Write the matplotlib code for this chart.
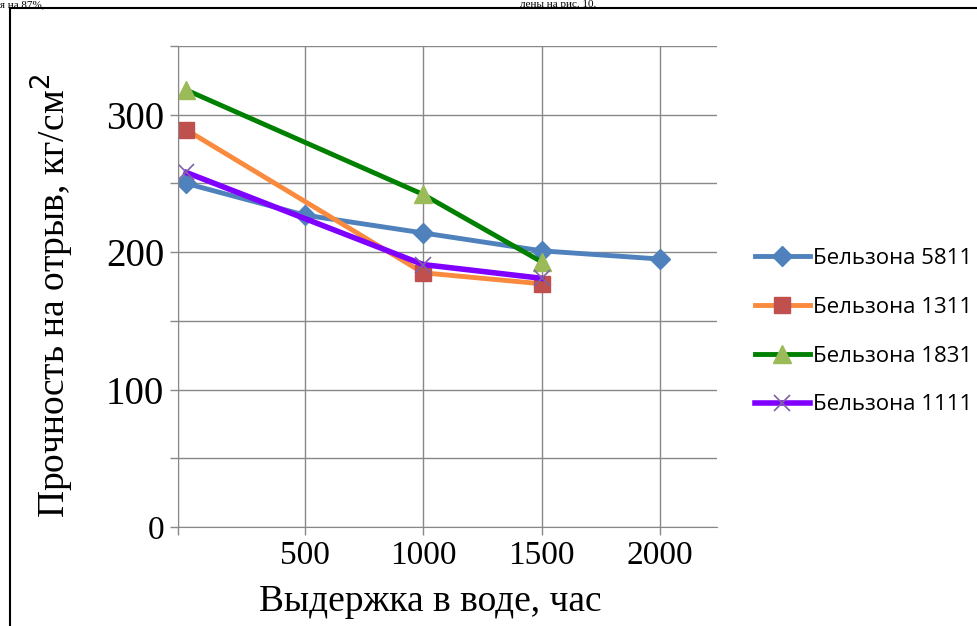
import matplotlib
matplotlib.use('Agg')
from matplotlib import pyplot as plt
from matplotlib.lines import Line2D

# время выдержки, час
x_5811 = [0, 500, 1000, 1500, 2000]
y_5811 = [250, 227, 214, 201, 195]

x_short = [0, 1000, 1500]
y_1311 = [289, 185, 177]
y_1831 = [318, 242, 193]
y_1111 = [258, 191, 181]

names = ['Бельзона 5811', 'Бельзона 1311', 'Бельзона 1831', 'Бельзона 1111']

serif = ['Liberation Serif', 'DejaVu Serif']

fig = plt.figure(figsize=(9.78, 6.26), dpi=100)
ax = fig.add_axes([0.182, 0.158, 0.551, 0.7685])

ax.plot(x_5811, y_5811, color='#4F81BD', lw=3.5, marker='D', ms=10,
        mfc='#4F81BD', mec='#4F81BD', label=names[0])
ax.plot(x_short, y_1311, color='#F98A3E', lw=3.5, marker='s', ms=12,
        mfc='#C0504D', mec='#C0504D', label=names[1])
ax.plot(x_short, y_1831, color='#008000', lw=3.5, marker='^', ms=13,
        mfc='#9BBB59', mec='#9BBB59', label=names[2])
ax.plot(x_short, y_1111, color='#8000FF', lw=4, marker='x', ms=12,
        mew=1.2, mec='#8064A2', label=names[3])

xmin, xmax = -35, 2240
ax.set_xlim(xmin, xmax)
ax.set_ylim(0, 350)
ax.set_xticks([xmin, 500, 1000, 1500, 2000])
ax.set_xticklabels(['', '500', '1000', '1500', '2000'])
ax.set_yticks([0, 100, 200, 300])
ax.set_yticks([50, 150, 250, 350], minor=True)

for lab in ax.get_xticklabels():
    lab.set_fontfamily(serif)
    lab.set_fontsize(24)
for lab in ax.get_yticklabels():
    lab.set_fontfamily(serif)
    lab.set_fontsize(28)
ax.get_yticklabels()[0].set_fontsize(24)

ax.tick_params(axis='both', which='both', direction='out', length=6,
               color='#888888', width=1)
ax.tick_params(axis='x', pad=4)
ax.tick_params(axis='y', pad=4)

ax.grid(True, which='both', color='#888888', lw=1)
ax.set_axisbelow(True)
for side in ['top', 'right']:
    ax.spines[side].set_visible(False)
for side in ['left', 'bottom']:
    ax.spines[side].set_color('#888888')

ax.set_xlabel('Выдержка в воде, час', fontfamily=serif, fontsize=27)
ax.xaxis.set_label_coords(0.4675, -0.12)
ax.set_ylabel('Прочность на отрыв, кг/см$^2$', fontfamily=serif, fontsize=27)
ax.yaxis.set_label_coords(-0.19, 0.48)

leg = ax.legend(loc='center left', bbox_to_anchor=(1.07, 0.406), frameon=False,
                prop={'family': ['Open Sans', 'DejaVu Sans'], 'size': 16},
                borderaxespad=0, borderpad=0,
                handlelength=2.5, handletextpad=0.15, labelspacing=1.25)

# рамка рисунка в документе
fy = 1 - 8 / 626
fx = 10 / 978
fig.add_artist(Line2D([fx, fx], [0, fy], color='black', lw=1.5))
fig.add_artist(Line2D([fx, 1], [fy, fy], color='black', lw=1.5))

fig.text(0.0, 0.9995, 'я на 87%,', fontfamily=serif, fontsize=8, va='top')
fig.text(520 / 978, 0.9995, 'лены на рис. 10.', fontfamily=serif, fontsize=8,
         va='top')

fig.savefig('out.png', dpi=100)
